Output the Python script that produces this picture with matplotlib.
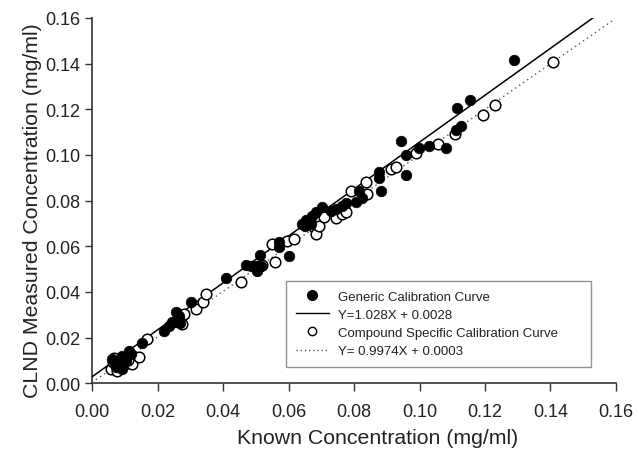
import matplotlib
matplotlib.use("Agg")
import matplotlib.pyplot as plt
from matplotlib.lines import Line2D
import numpy as np

plt.rcParams['font.family'] = ['Liberation Sans', 'DejaVu Sans']

# Generic calibration curve (filled circles)
gen_x = [0.0061, 0.0073, 0.0082, 0.0092, 0.0092, 0.0104, 0.0113, 0.0085, 0.0100, 0.0070, 0.0110, 0.0120,
         0.0153, 0.0220, 0.0235, 0.0244, 0.0256, 0.0266, 0.0270, 0.0255, 0.0265, 0.0302, 0.0409, 0.0470,
         0.0485, 0.0500, 0.0504, 0.0516, 0.0513, 0.0571, 0.0571, 0.0602, 0.0641, 0.0650, 0.0653, 0.0669,
         0.0672, 0.0684, 0.0702, 0.0730, 0.0745, 0.0763, 0.0775, 0.0805, 0.0815, 0.0825, 0.0876, 0.0876,
         0.0882, 0.0943, 0.0958, 0.0958, 0.0998, 0.1030, 0.1080, 0.1110, 0.1127, 0.1115, 0.1154, 0.1290]
gen_y = [0.0105, 0.0070, 0.0084, 0.0119, 0.0062, 0.0097, 0.0141, 0.0100, 0.0110, 0.0090, 0.0125, 0.0130,
         0.0176, 0.0229, 0.0251, 0.0268, 0.0312, 0.0281, 0.0262, 0.0270, 0.0295, 0.0356, 0.0462, 0.0519,
         0.0514, 0.0514, 0.0492, 0.0514, 0.0563, 0.0620, 0.0598, 0.0558, 0.0699, 0.0690, 0.0716, 0.0699,
         0.0734, 0.0752, 0.0774, 0.0756, 0.0765, 0.0778, 0.0791, 0.0796, 0.0840, 0.0813, 0.0927, 0.0901,
         0.0844, 0.1060, 0.0998, 0.0914, 0.1029, 0.1037, 0.1030, 0.1108, 0.1125, 0.1204, 0.1240, 0.1415]

# Compound specific calibration curve (open circles)
cmp_x = [0.0058, 0.0067, 0.0080, 0.0100, 0.0122, 0.0143, 0.0090, 0.0110, 0.0063, 0.0075, 0.0168, 0.0275,
         0.0281, 0.0318, 0.0339, 0.0348, 0.0455, 0.0519, 0.0550, 0.0559, 0.0595, 0.0617, 0.0678, 0.0684,
         0.0693, 0.0708, 0.0745, 0.0763, 0.0775, 0.0791, 0.0836, 0.0840, 0.0913, 0.0927, 0.0990, 0.1057,
         0.1108, 0.1194, 0.1230, 0.1408]
cmp_y = [0.0062, 0.0110, 0.0075, 0.0085, 0.0084, 0.0114, 0.0095, 0.0100, 0.0095, 0.0052, 0.0193, 0.0259,
         0.0303, 0.0325, 0.0356, 0.0391, 0.0444, 0.0519, 0.0611, 0.0532, 0.0624, 0.0633, 0.0686, 0.0655,
         0.0690, 0.0730, 0.0725, 0.0743, 0.0752, 0.0844, 0.0883, 0.0830, 0.0940, 0.0945, 0.1007, 0.1046,
         0.1090, 0.1174, 0.1218, 0.1407]

gen_slope, gen_icpt = 1.028, 0.0028
cmp_slope, cmp_icpt = 0.9974, 0.0003

ticks = [0.00, 0.02, 0.04, 0.06, 0.08, 0.10, 0.12, 0.14, 0.16]

fig = plt.figure(figsize=(6.39, 4.52), dpi=100)
ax = fig.add_axes([0.1440, 0.150, 0.820, 0.808])

xs = np.array([0.0, 0.1530])
ax.plot(xs, gen_slope * xs + gen_icpt, color='black', lw=1.1, zorder=3)
xc = np.array([0.0, 0.1590])
ax.plot(xc, cmp_slope * xc + cmp_icpt, color='#555555', lw=1.0, ls=(0, (1, 2.5)), zorder=3)

ax.scatter(cmp_x, cmp_y, s=58, facecolors='white', edgecolors='black', linewidths=1.1, zorder=4)
ax.scatter(gen_x, gen_y, s=58, facecolors='black', edgecolors='black', linewidths=0.5, zorder=5)

ax.set_xlim(0, 0.16)
ax.set_ylim(0, 0.16)
ax.set_xticks(ticks)
ax.set_yticks(ticks)
ax.set_xticklabels([f"{t:.2f}" for t in ticks])
ax.set_yticklabels([f"{t:.2f}" for t in ticks])
ax.tick_params(direction='out', length=5, width=1, colors='#333333', labelsize=13, labelcolor='#222222')
ax.tick_params(axis='x', length=6, pad=8.5)
for s in ['top', 'right']:
    ax.spines[s].set_visible(False)
for s in ['left', 'bottom']:
    ax.spines[s].set_color('#333333')
    ax.spines[s].set_linewidth(1.2)

ax.set_xlabel('Known Concentration (mg/ml)', fontsize=15.3, color='#222222')
ax.set_ylabel('CLND Measured Concentration (mg/ml)', fontsize=15.3, color='#222222')
ax.xaxis.set_label_coords(0.546, -0.124)
ax.yaxis.set_label_coords(-0.096, 0.474)

handles = [
    Line2D([], [], marker='o', color='none', markerfacecolor='black', markeredgecolor='black', markersize=7),
    Line2D([], [], color='black', lw=1.0),
    Line2D([], [], marker='o', color='none', markerfacecolor='white', markeredgecolor='black', markersize=6, markeredgewidth=1.0),
    Line2D([], [], color='#555555', lw=1.0, ls=(0, (1, 2))),
]
labels = ['Generic Calibration Curve', 'Y=1.028X + 0.0028',
          'Compound Specific Calibration Curve', 'Y= 0.9974X + 0.0003']
leg = ax.legend(handles, labels, loc='lower left', bbox_to_anchor=(0.370, 0.044, 0.582, 0.246),
                mode='expand', fontsize=9.5, frameon=True, fancybox=False, handlelength=2.5,
                handletextpad=0.7, labelspacing=0.45, borderpad=0.75, borderaxespad=0)
leg.get_frame().set_edgecolor('#777777')
leg.get_frame().set_linewidth(1.0)
for t in leg.get_texts():
    t.set_color('#222222')

fig.savefig('out.png', dpi=100)
